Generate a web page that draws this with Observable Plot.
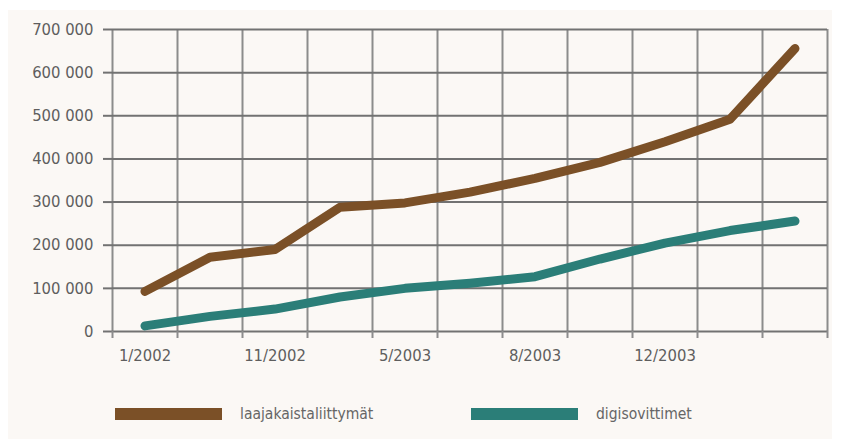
<!DOCTYPE html>
<html>
<head>
<meta charset="utf-8">
<script src="https://cdn.jsdelivr.net/npm/d3@7"></script>
<script src="https://cdn.jsdelivr.net/npm/@observablehq/plot@0.6"></script>
<style>
  html, body { margin: 0; padding: 0; background: #ffffff; }
  #panel { position: absolute; left: 8px; top: 10px; width: 824px; height: 429px; background: #fbf8f5; }
  #chart { position: absolute; left: 0; top: 0; }
  #chart svg { background: transparent; }
  #legend { position: absolute; left: 0; top: 390px; width: 842px; height: 49px;
            font-family: "DejaVu Sans Condensed", "DejaVu Sans", sans-serif; font-size: 15.5px; color: #666666; }
  .item { position: absolute; top: 24px; display: flex; align-items: center; transform: translateY(-50%); }
  .sw { width: 107px; height: 12px; margin-right: 18px; }
</style>
</head>
<body>
<div id="panel"></div>
<div id="chart"></div>
<div id="legend"></div>
<script>
const periodIndex = [0, 1, 2, 3, 4, 5, 6, 7, 8, 9, 10];
const tickLabels = ["1/2002", "", "11/2002", "", "5/2003", "", "8/2003", "", "12/2003", "", ""];
const laajakaista = [93000, 172000, 190000, 288000, 298000, 323000, 355000, 392000, 440000, 492000, 656000];
const digisovittimet = [13000, 35000, 52000, 80000, 100000, 112000, 127000, 168000, 205000, 234000, 256000];
const seriesNames = ["laajakaistaliittymät", "digisovittimet"];
const seriesColors = ["#7b5027", "#2b7e78"];
const yTicks = [0, 100000, 200000, 300000, 400000, 500000, 600000, 700000];

const rows = [];
periodIndex.forEach((p, i) => {
  rows.push({x: p + 0.5, y: laajakaista[i], s: seriesNames[0]});
  rows.push({x: p + 0.5, y: digisovittimet[i], s: seriesNames[1]});
});
const gridX = d3.range(0, periodIndex.length + 1);
const labelPos = periodIndex.filter(i => tickLabels[i] !== "").map(i => i + 0.5);
const fmt = d => d3.format(",")(d).replace(/,/g, " ");

const chart = Plot.plot({
  width: 842,
  height: 390,
  marginLeft: 112,
  marginRight: 15,
  marginTop: 29,
  marginBottom: 59,
  style: {fontFamily: "'DejaVu Sans Condensed', 'DejaVu Sans', sans-serif", fontSize: "16.5px", color: "#5e5e5e", background: "transparent"},
  x: {domain: [0, periodIndex.length], axis: null},
  y: {domain: [0, 700000], axis: null},
  color: {domain: seriesNames, range: seriesColors},
  marks: [
    Plot.ruleX(gridX, {y1: 0, y2: 700000, stroke: "#8c8c8c", strokeWidth: 2}),
    Plot.ruleY(yTicks, {x1: 0, x2: periodIndex.length, stroke: "#727272", strokeWidth: 2}),
    Plot.axisY({ticks: yTicks, label: null, tickSize: 9, tickPadding: 10, tickFormat: fmt, stroke: "#727272", strokeWidth: 2, fill: "#5e5e5e", fontSize: 16.5}),
    Plot.axisX({ticks: gridX, label: null, tickSize: 7, tickFormat: () => "", stroke: "#8c8c8c", strokeWidth: 2}),
    Plot.axisX({ticks: labelPos, label: null, tickSize: 0, tickPadding: 18, tickFormat: d => tickLabels[Math.round(d - 0.5)], fill: "#5e5e5e", fontSize: 16.5}),
    Plot.line(rows, {x: "x", y: "y", z: "s", stroke: "s", strokeWidth: 9, strokeLinejoin: "round", strokeLinecap: "round"})
  ]
});
document.getElementById("chart").appendChild(chart);

const legend = document.getElementById("legend");
const lefts = [115, 471];
seriesNames.forEach((n, i) => {
  const it = document.createElement("div");
  it.className = "item";
  it.style.left = lefts[i] + "px";
  it.innerHTML = `<span class="sw" style="background:${seriesColors[i]}"></span><span>${n}</span>`;
  legend.appendChild(it);
});
</script>
</body>
</html>
